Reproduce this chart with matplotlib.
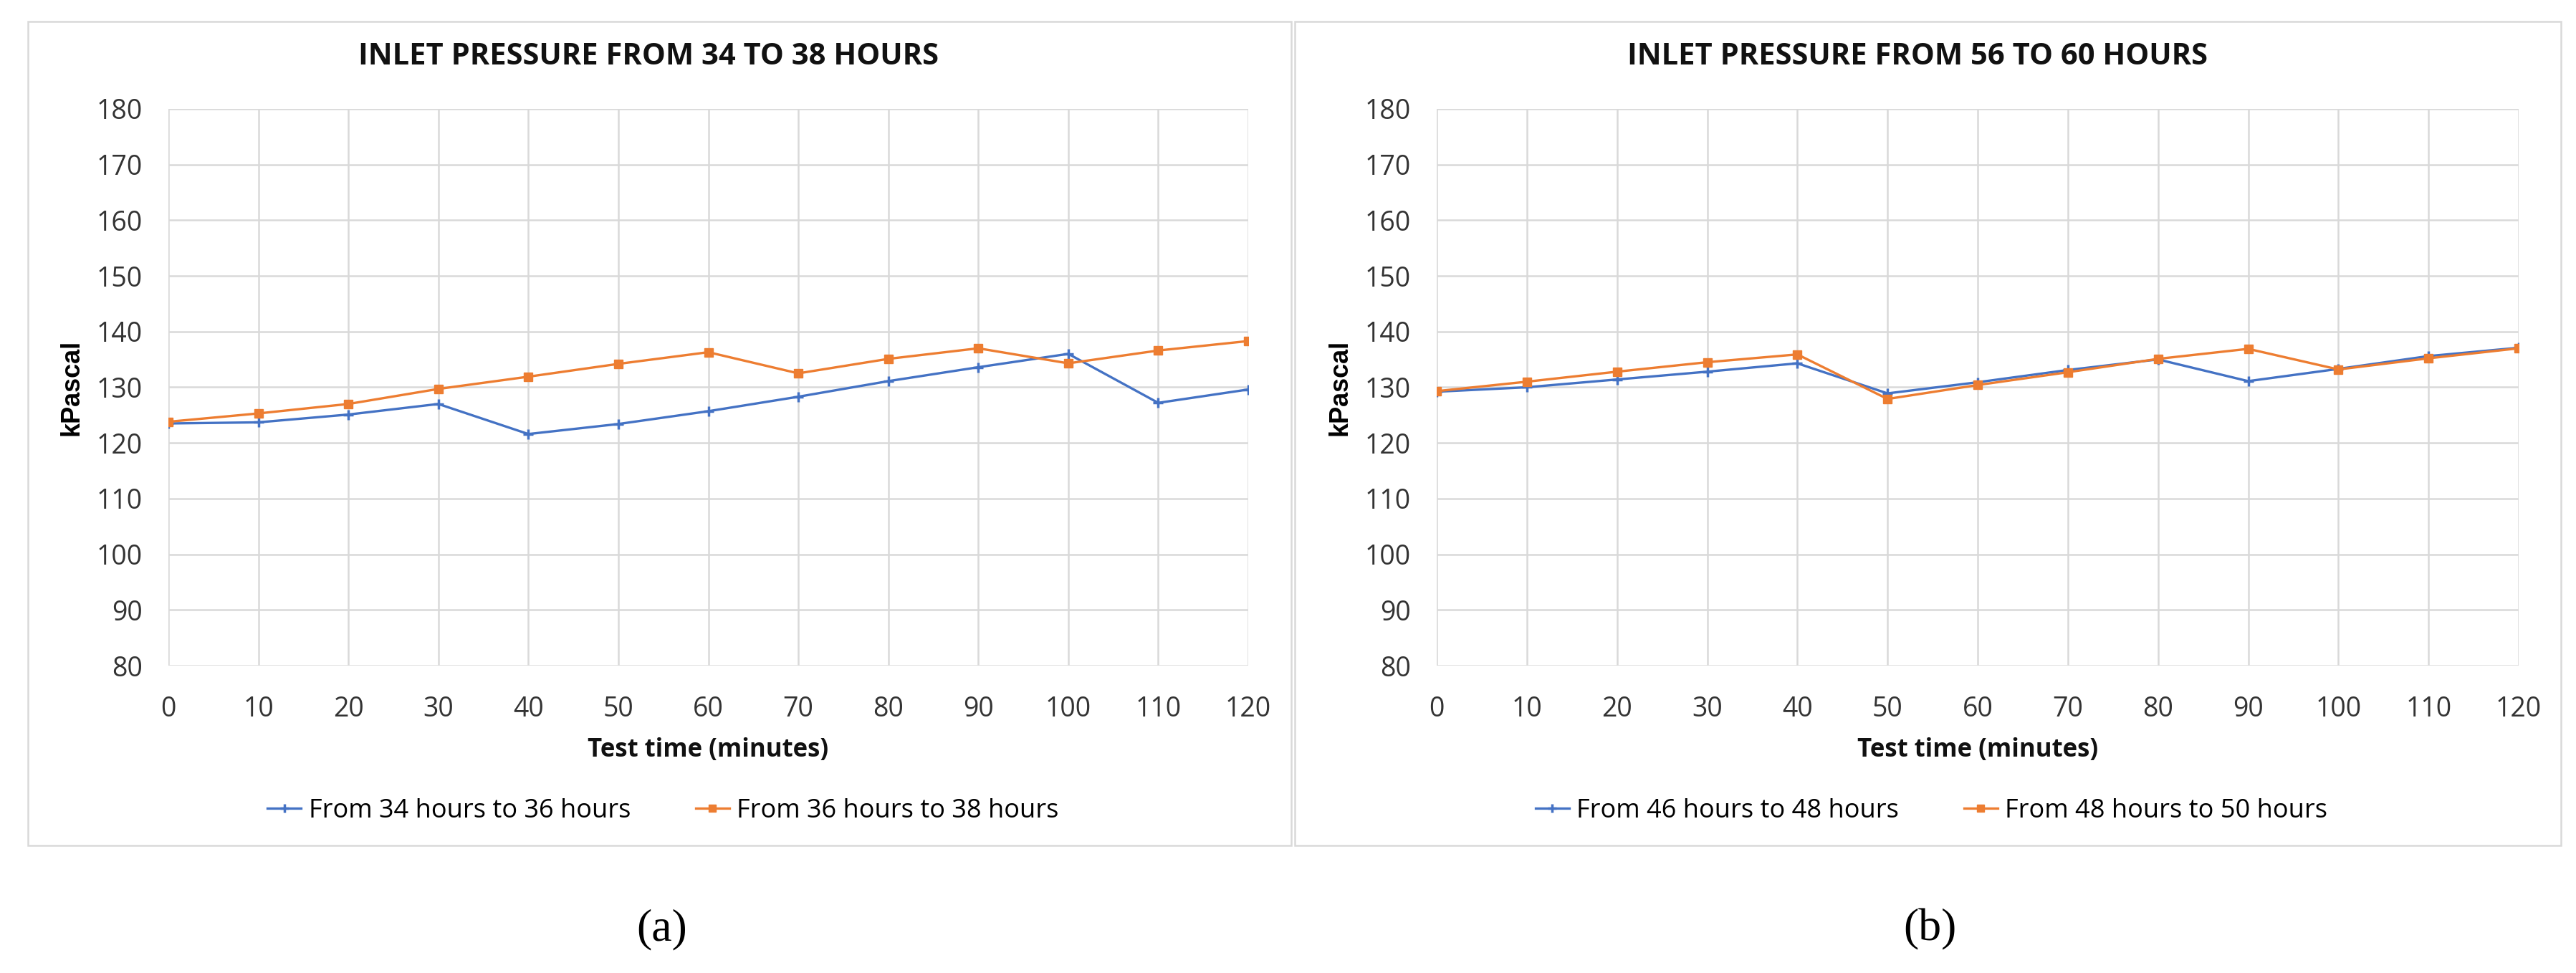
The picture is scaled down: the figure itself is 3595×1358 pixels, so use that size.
import numpy as np
import matplotlib.pyplot as plt
from matplotlib.patches import Rectangle

# Test time (minutes)
minutes = [0, 10, 20, 30, 40, 50, 60, 70, 80, 90, 100, 110, 120]

# panel (a): inlet pressure, kPa
p_34_36 = [123.5, 123.7, 125.1, 127.0, 121.6, 123.4, 125.7, 128.3, 131.1, 133.6, 136.0, 127.2, 129.6]
p_36_38 = [123.8, 125.3, 127.0, 129.7, 131.9, 134.2, 136.3, 132.5, 135.1, 137.0, 134.3, 136.6, 138.3]

# panel (b): inlet pressure, kPa
p_46_48 = [129.2, 130.0, 131.4, 132.8, 134.3, 128.9, 130.9, 133.1, 135.0, 131.1, 133.3, 135.6, 137.1]
p_48_50 = [129.3, 131.0, 132.8, 134.5, 135.9, 127.9, 130.4, 132.7, 135.1, 136.9, 133.2, 135.2, 137.0]

titles = ["INLET PRESSURE FROM 34 TO 38 HOURS", "INLET PRESSURE FROM 56 TO 60 HOURS"]
labels = [["From 34 hours to 36 hours", "From 36 hours to 38 hours"],
          ["From 46 hours to 48 hours", "From 48 hours to 50 hours"]]
panel_tags = ["(a)", "(b)"]
yticks = np.arange(80, 181, 10)

BLUE = "#4472C4"
ORANGE = "#ED7D31"
GRID = "#D9D9D9"
FONT = ["Open Sans", "DejaVu Sans"]

W, H = 3595, 1358
fig = plt.figure(figsize=(W / 100, H / 100), dpi=100)

def fx(px):
    return px / W

def fy(py):
    return 1 - py / H

# pixel layout of the two panels: box (x0, x1), plot (x0, x1)
boxes = [(39, 1802), (1807, 3574)]
plots = [(235, 1742), (2005, 3515)]
plot_top, plot_bot = 152, 929
box_top, box_bot = 30, 1180

series = [(p_34_36, p_36_38), (p_46_48, p_48_50)]

for i in range(2):
    bx0, bx1 = boxes[i]
    px0, px1 = plots[i]
    fig.patches.append(Rectangle((fx(bx0), fy(box_bot)), fx(bx1 - bx0), (box_bot - box_top) / H,
                                 transform=fig.transFigure, fill=False, edgecolor=GRID, linewidth=1.8))

    ax = fig.add_axes([fx(px0), fy(plot_bot), fx(px1 - px0), (plot_bot - plot_top) / H])
    s1, s2 = series[i]
    l1, = ax.plot(minutes, s1, color=BLUE, linewidth=2.4, marker="+", markersize=10,
                  markeredgewidth=2.5, label=labels[i][0], zorder=3)
    l2, = ax.plot(minutes, s2, color=ORANGE, linewidth=2.4, marker="s", markersize=8.5,
                  label=labels[i][1], zorder=4)

    ax.set_xlim(0, 120)
    ax.set_ylim(80, 180)
    ax.set_xticks(minutes)
    ax.set_yticks(yticks)
    ax.grid(True, color=GRID, linewidth=1.8)
    ax.set_axisbelow(True)
    for sp in ax.spines.values():
        sp.set_visible(False)
    ax.tick_params(length=0, labelsize=27, labelcolor="#333333")
    ax.tick_params(axis="y", pad=26)
    ax.tick_params(axis="x", pad=30)
    for t in ax.get_xticklabels() + ax.get_yticklabels():
        t.set_family(FONT)

    cx = (bx0 + bx1) / 2
    fig.text(fx(cx - 15), fy(80), titles[i], ha="center", va="center", fontsize=30,
             fontweight="bold", family=FONT, color="#111111")
    fig.text(fx(px0 - 135), fy((plot_top + plot_bot) / 2), "kPascal", rotation=90,
             ha="center", va="center", fontsize=26, fontweight="bold",
             family=["Liberation Sans", "DejaVu Sans"])
    fig.text(fx((px0 + px1) / 2), fy(1047), "Test time (minutes)", ha="center", va="center",
             fontsize=25, fontweight="bold", family=FONT, color="#111111")
    fig.legend(handles=[l1, l2], loc="center", bbox_to_anchor=(fx(cx + 5), fy(1132)), ncol=2,
               frameon=False, prop={"family": FONT, "size": 26}, handlelength=1.3,
               handletextpad=0.3, columnspacing=2.5, markerscale=0.8)
    fig.text(fx(cx + 3), fy(1297), panel_tags[i], ha="center", va="center", fontsize=46,
             family=["Liberation Serif", "DejaVu Serif"])

fig.savefig("out.png", dpi=100)
